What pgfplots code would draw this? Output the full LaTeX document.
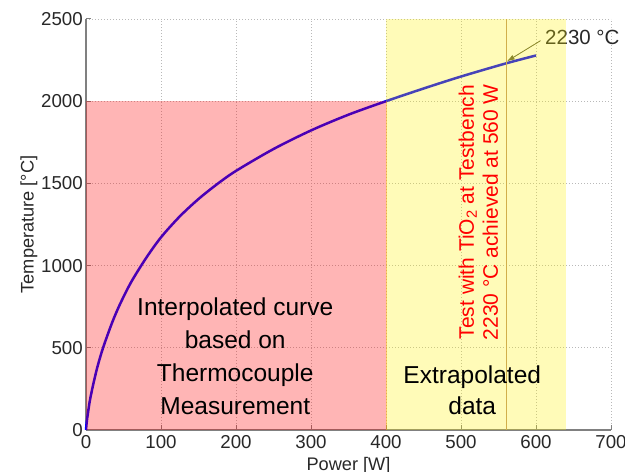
\documentclass[border=0pt]{standalone}
\usepackage{pgfplots}
\pgfplotsset{compat=1.18}
\usepackage{fontspec}
\setmainfont{Liberation Sans}
\usetikzlibrary{arrows.meta}
\definecolor{axgray}{RGB}{128,128,128}
\definecolor{gridgray}{RGB}{185,185,185}
\definecolor{txtgray}{RGB}{40,40,40}
\definecolor{markline}{RGB}{192,150,105}
\definecolor{arrowcol}{RGB}{95,95,60}
\begin{document}
\begin{tikzpicture}[x=1bp,y=1bp]
\begin{axis}[
  at={(0,0)}, anchor=south west,
  scale only axis, width=525bp, height=411bp,
  xmin=0, xmax=700, ymin=0, ymax=2500,
  xtick={0,100,...,700}, ytick={0,500,...,2500},
  axis x line*=bottom, axis y line*=left,
  axis line style={-, draw=axgray, line width=1.5bp},
  tick style={draw=axgray, line width=1bp},
  tick align=inside, major tick length=5bp,
  grid=major,
  major grid style={draw=gridgray, line width=0.8bp, dash pattern=on 1bp off 2bp},
  clip=false,
  /pgf/number format/assume math mode=true,
  /pgf/number format/set thousands separator={},
  ticklabel style={font=\fontsize{18.7bp}{22bp}\selectfont, text=txtgray},
  xticklabel style={inner sep=2bp, yshift=-3bp},
  yticklabel style={inner sep=2bp, xshift=-1bp},
  xlabel={Power [W]},
  ylabel={Temperature [°C]},
  xlabel style={font=\fontsize{18.2bp}{22bp}\selectfont, text=txtgray,
    at={(axis description cs:0.5,-0.066)}, anchor=north, inner sep=0pt},
  ylabel style={font=\fontsize{18.2bp}{22bp}\selectfont, text=txtgray,
    at={(axis description cs:-0.092,0.5)}, anchor=south, rotate=0, inner sep=0pt},
]
% heating curve: temperature against electrical power
\addplot[blue, line width=2.5bp, smooth] coordinates {
  (0,0) (1,50) (2.5,100) (5,175) (7.5,232) (10,285) (15,380) (20,460)
  (25,530) (35,655) (45,762) (60,898) (80,1045) (100,1172) (125,1299)
  (150,1405) (175,1496) (200,1576) (250,1709) (300,1822) (350,1918)
  (400,2000) (450,2077) (500,2150) (560,2230) (600,2278)
};
% value label and its arrow
\node[anchor=west, inner sep=0pt, text=txtgray, font=\fontsize{20.5bp}{24bp}\selectfont]
  at (axis cs:612,2389) {2230 °C};
\draw[-{Latex[length=8bp,width=5bp]}, draw=arrowcol, fill=arrowcol, line width=0.8bp]
  (axis cs:606,2368) -- (axis cs:561,2242);
% test point marker
\draw[draw=markline, line width=1bp] (axis cs:560,0) -- (axis cs:560,2500);
% shaded regions
\fill[red, opacity=0.29] (axis cs:0,0) rectangle (axis cs:400,2000);
\fill[yellow, opacity=0.28] (axis cs:400,0) rectangle (axis cs:640,2500);
\draw[draw=orange, opacity=0.4, line width=0.8bp] (axis cs:400,0) -- (axis cs:400,2000);
% region descriptions
\node[align=center, inner sep=0pt, font=\fontsize{24.5bp}{33bp}\selectfont]
  at (axis cs:199,450) {Interpolated curve\\based on\\Thermocouple\\Measurement};
\node[align=center, inner sep=0pt, font=\fontsize{24.5bp}{31bp}\selectfont]
  at (axis cs:515,243) {Extrapolated\\data};
\node[rotate=90, align=center, inner sep=0pt, text=red, font=\fontsize{21bp}{24bp}\selectfont]
  at (axis cs:523,1325) {Test with TiO\textsubscript{2} at Testbench\\2230 °C achieved at 560 W};
\end{axis}
\pgfresetboundingbox
\useasboundingbox (-86,-42) rectangle (539,430);
\end{tikzpicture}
\end{document}
